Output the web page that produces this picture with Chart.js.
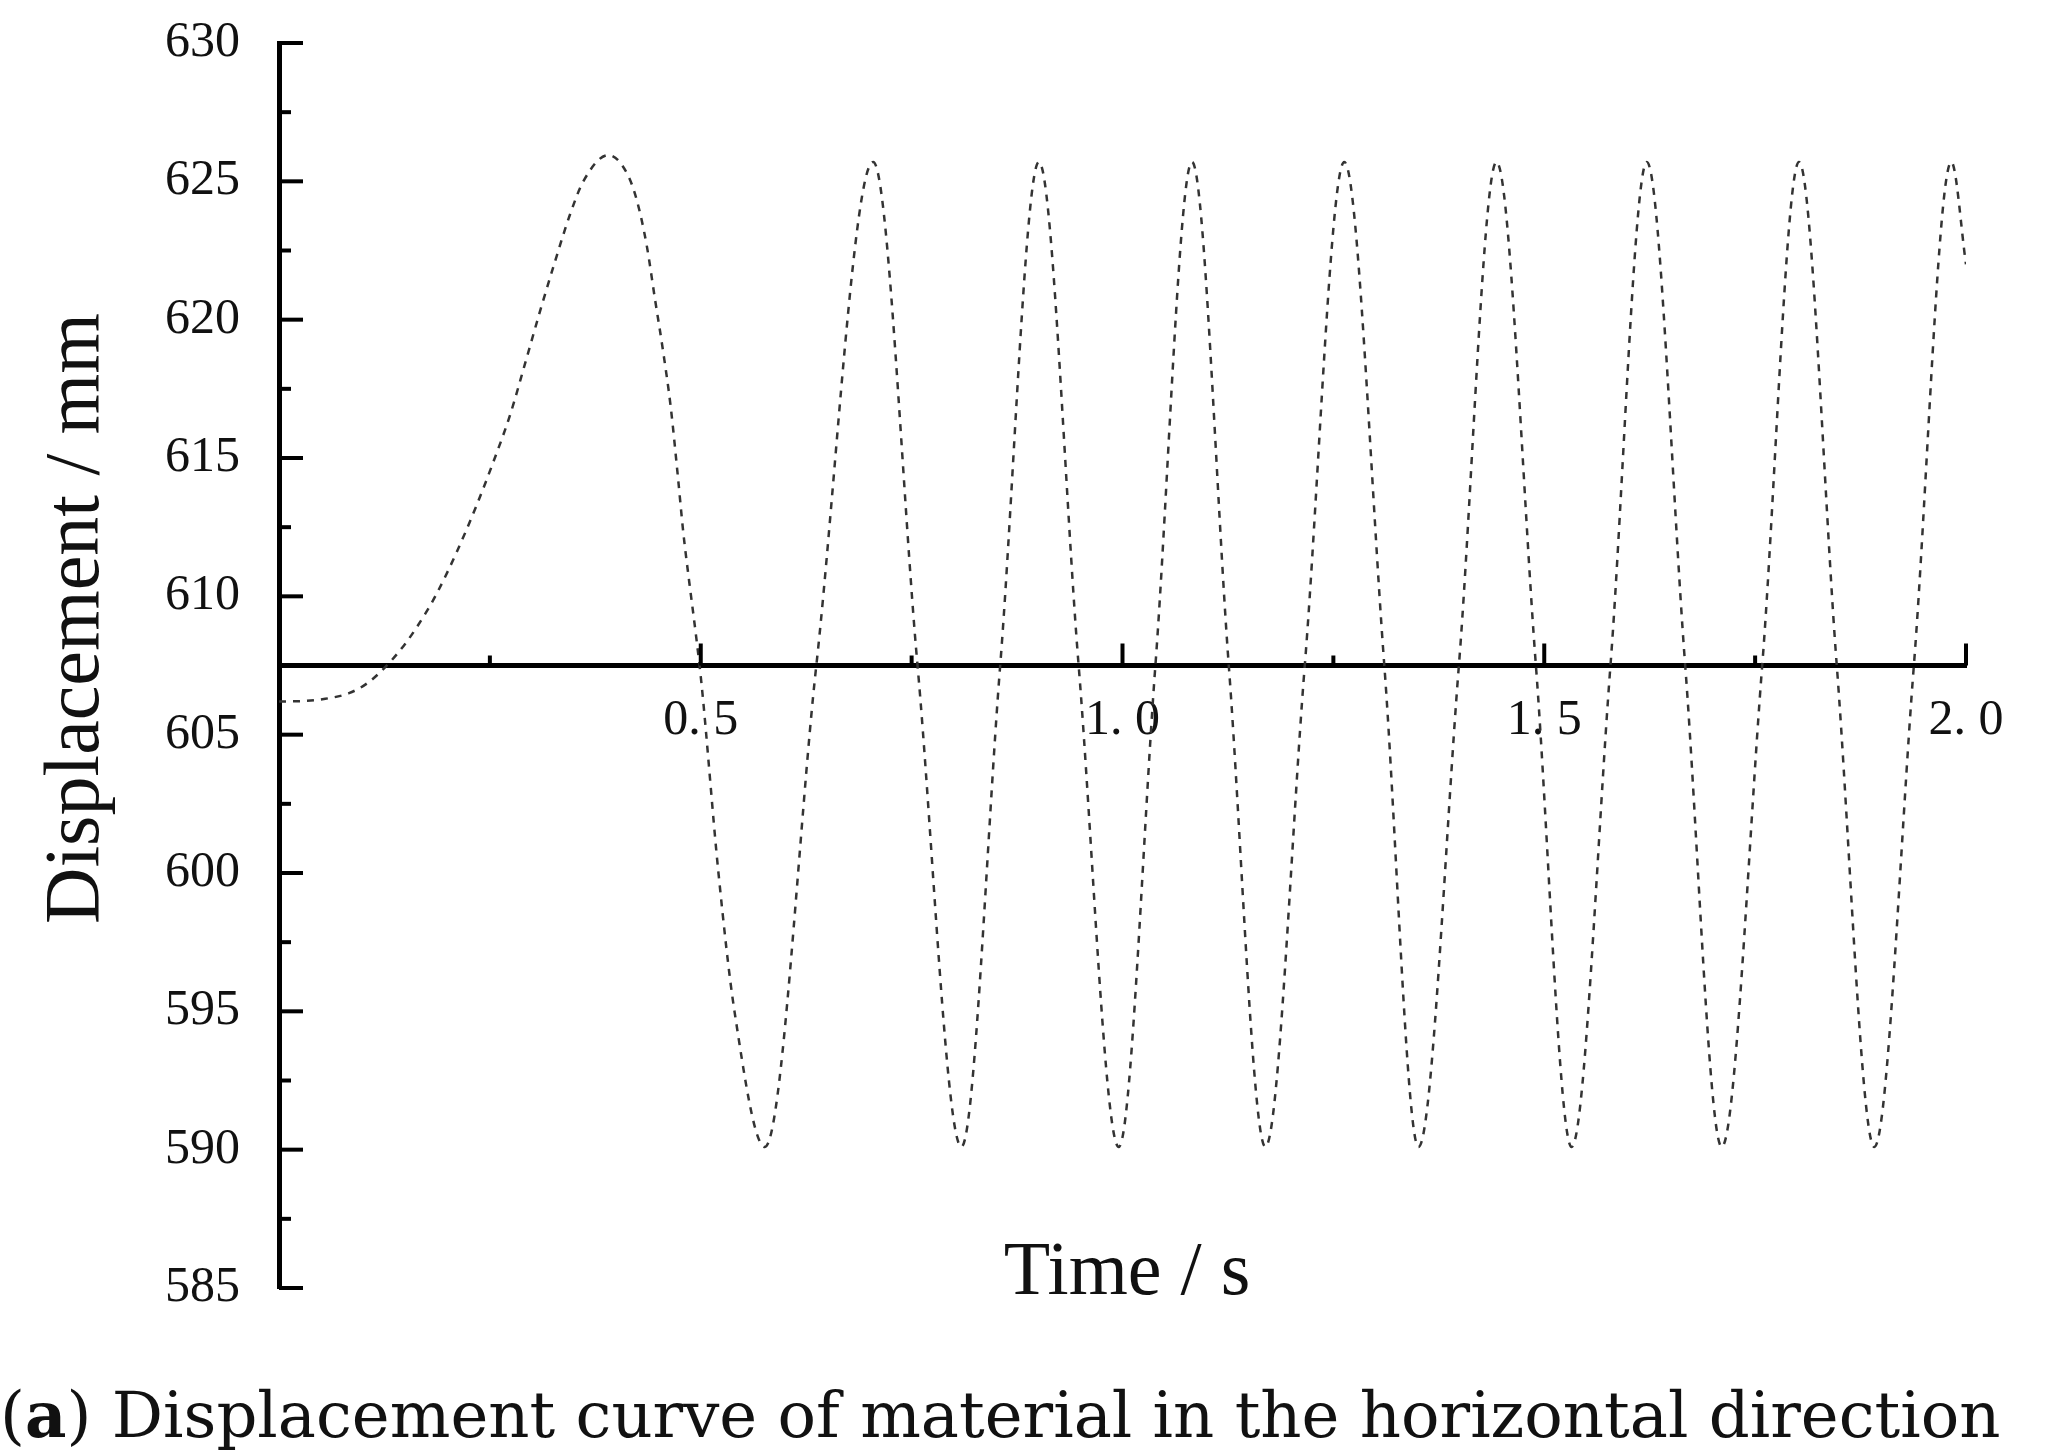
<!DOCTYPE html>
<html>
<head>
<meta charset="utf-8">
<title>Displacement curve</title>
<script src="https://cdn.jsdelivr.net/npm/chart.js@4.4.1/dist/chart.umd.min.js"></script>
<style>
    html, body { margin: 0; padding: 0; background: #fff; overflow: hidden; }
    #wrap { position: relative; width: 2055px; height: 1450px; }
    #caption {
        position: absolute;
        left: 0;
        top: 1383px;
        font-family: "DejaVu Serif", serif;
        font-size: 64px;
        line-height: 64px;
        color: #111;
        white-space: nowrap;
    }
</style>
</head>
<body>
<div id="wrap">
    <canvas id="dispChart" width="2055" height="1450"></canvas>
    <div id="caption">(<b>a</b>) Displacement curve of material in the horizontal direction</div>
</div>

<script>
// ============================================================
// DATA
// ============================================================

const timeS = [
    0, 0.032, 0.0514, 0.083, 0.1047, 0.1265, 0.150, 0.174, 0.187, 0.2107,
    0.2344, 0.254, 0.2739, 0.2916, 0.3094, 0.3272, 0.345, 0.3608, 0.3905,
    0.4122, 0.424, 0.4359, 0.4457, 0.4556, 0.4643, 0.4727, 0.4793, 0.4864,
    0.4944, 0.5011, 0.521, 0.540, 0.576,
    0.637, 0.7044, 0.757, 0.809, 0.855, 0.9009, 0.948, 0.9955, 1.039, 1.0824,
    1.126, 1.1694, 1.2161, 1.2629, 1.3104, 1.3509, 1.3988, 1.4434, 1.4901,
    1.5324, 1.5785, 1.6216, 1.6671, 1.7104, 1.7584, 1.802, 1.8468, 1.8913,
    1.9382, 1.9826, 2.0
];

const displacementMm = [
    606.2, 606.22, 606.28, 606.5, 606.86, 607.46, 608.3, 609.4, 610.1, 611.6,
    613.3, 614.85, 616.55, 618.4, 620.3, 622.1, 623.8, 625.0, 625.95,
    625.31, 624.34, 622.69, 620.75, 618.81, 616.87, 614.39, 612.31, 610.51,
    608.58, 606.78, 600.0, 595.0, 590.1,
    607.5, 625.7, 607.5, 590.1, 607.5, 625.7, 607.5, 590.1, 607.5, 625.7,
    607.5, 590.1, 607.5, 625.7, 607.5, 590.1, 607.5, 625.7, 607.5,
    590.1, 607.5, 625.7, 607.5, 590.1, 607.5, 625.7, 607.5, 590.1,
    607.5, 625.7, 622.0
];

// axes
const yMajorTicks = [585, 590, 595, 600, 605, 610, 615, 620, 625, 630];
const yMinorTicks = [587.5, 592.5, 597.5, 602.5, 607.5, 612.5, 617.5, 622.5, 627.5];
const xMajorTicks = [0.5, 1.0, 1.5, 2.0];
const xMinorTicks = [0.25, 0.75, 1.25, 1.75];
const xAxisCrossing = 607.5;   // the time axis crosses the displacement axis here

const xTitle = "Time / s";
const yTitle = "Displacement / mm";


// ============================================================
// PLUGIN : inward ticks + axis titles
// ============================================================

const axisDecorations = {
    id: "axisDecorations",
    afterDraw(chart) {
        const { ctx, chartArea, scales: { x, y } } = chart;
        const axisX = chartArea.left;
        const axisY = y.getPixelForValue(xAxisCrossing);

        function tick(x1, y1, x2, y2) {
            ctx.beginPath();
            ctx.moveTo(x1, y1);
            ctx.lineTo(x2, y2);
            ctx.stroke();
        }

        ctx.save();
        ctx.strokeStyle = "#000";
        ctx.lineWidth = 4;

        // y ticks point right
        yMajorTicks.forEach(v => {
            const py = y.getPixelForValue(v);
            tick(axisX, py, axisX + 24, py);
        });
        yMinorTicks.forEach(v => {
            const py = y.getPixelForValue(v);
            tick(axisX, py, axisX + 12, py);
        });

        // x ticks point up
        xMajorTicks.forEach(v => {
            const px = x.getPixelForValue(v);
            tick(px, axisY, px, axisY - 22);
        });
        xMinorTicks.forEach(v => {
            const px = x.getPixelForValue(v);
            tick(px, axisY, px, axisY - 10);
        });

        // titles
        ctx.fillStyle = "#111";
        ctx.textAlign = "center";

        ctx.font = "76px 'Liberation Serif'";
        ctx.textBaseline = "alphabetic";
        ctx.fillText(xTitle, chartArea.left + chartArea.width * 0.5027, chartArea.bottom + 6);

        ctx.font = "78px 'Liberation Serif'";
        ctx.textBaseline = "middle";
        ctx.translate(78, y.getPixelForValue(609.2));
        ctx.rotate(-Math.PI / 2);
        ctx.fillText(yTitle, 0, 0);

        ctx.restore();
    }
};


// ============================================================
// CHART
// ============================================================

document.addEventListener("DOMContentLoaded", function () {

    const points = timeS.map((t, i) => ({ x: t, y: displacementMm[i] }));

    new Chart(document.getElementById("dispChart"), {
        type: "line",
        data: {
            datasets: [{
                label: "Displacement",
                data: points,
                borderColor: "#333",
                borderWidth: 2.5,
                borderDash: [7, 7],
                pointRadius: 0,
                fill: false,
                cubicInterpolationMode: "monotone"
            }]
        },
        options: {
            responsive: false,
            animation: false,
            layout: {
                padding: { left: 0, top: 43, right: 89, bottom: 162 }
            },
            plugins: {
                legend: { display: false },
                tooltip: { enabled: false }
            },
            scales: {
                x: {
                    type: "linear",
                    min: 0,
                    max: 2,
                    position: { y: xAxisCrossing },
                    grid: { display: false, drawTicks: false },
                    border: { display: true, width: 5, color: "#000" },
                    ticks: {
                        stepSize: 0.5,
                        padding: 25,
                        color: "#111",
                        font: { family: "'Liberation Serif'", size: 50 },
                        maxRotation: 0,
                        autoSkip: false,
                        callback: v => v === 0 ? "" : v.toFixed(1).replace(".", ". ")
                    }
                },
                y: {
                    type: "linear",
                    min: 585,
                    max: 630,
                    position: "left",
                    grid: { display: false, drawTicks: false },
                    border: { display: true, width: 5, color: "#000" },
                    ticks: {
                        stepSize: 5,
                        padding: 39,
                        color: "#111",
                        font: { family: "'Liberation Serif'", size: 50 },
                        callback: v => String(v)
                    },
                    afterFit: scale => {
                        scale.width = 279;
                        // tick padding should not push the plot down
                        scale.paddingTop = 0;
                        scale.paddingBottom = 0;
                    }
                }
            }
        },
        plugins: [axisDecorations]
    });
});
</script>
</body>
</html>
